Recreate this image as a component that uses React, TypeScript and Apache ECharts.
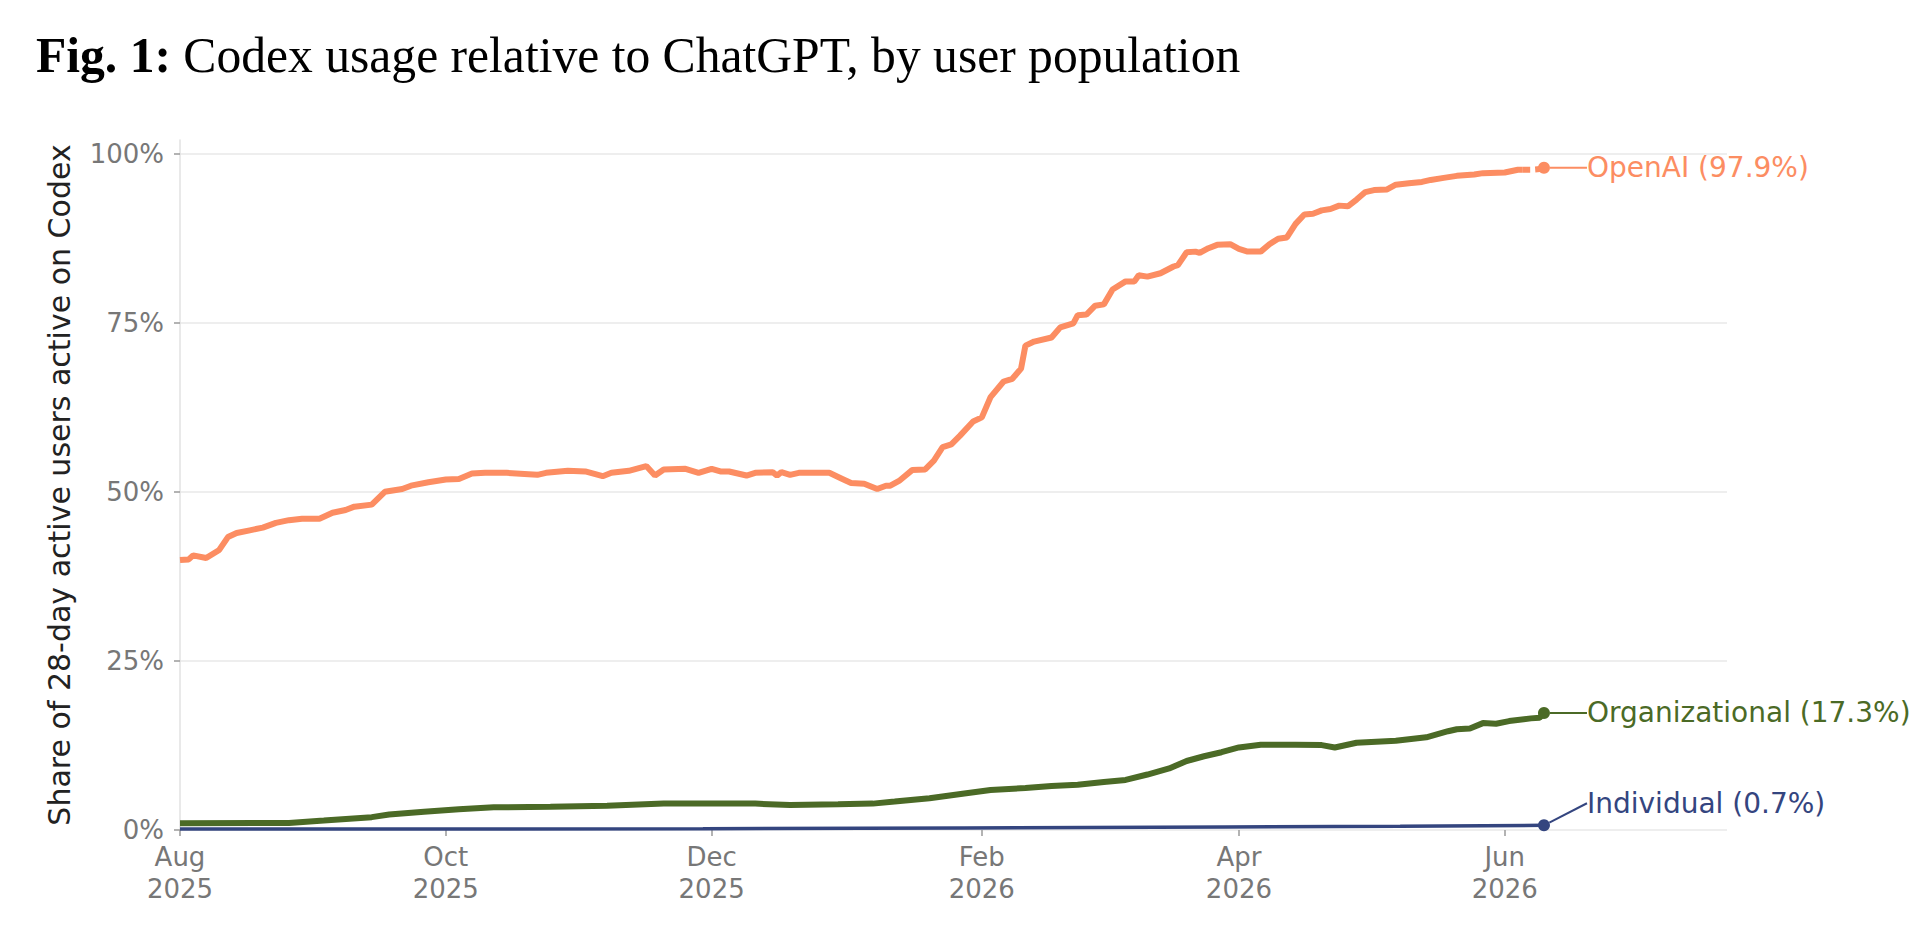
import React, { useEffect, useRef } from "react";
import * as echarts from "echarts";

const SANS = "DejaVu Sans";
const SERIF = "Liberation Serif";

const ORANGE = "#fc8d62";
const GREEN = "#4b6a26";
const NAVY = "#34457f";

// x tick labels
const tickDates = ["2025-08-01", "2025-10-01", "2025-12-01", "2026-02-01", "2026-04-01", "2026-06-01"];
const tickMonths = ["Aug", "Oct", "Dec", "Feb", "Apr", "Jun"];
const tickYears = ["2025", "2025", "2025", "2026", "2026", "2026"];
const yTicks = [0, 25, 50, 75, 100];

// OpenAI (solid part)
const openaiSeries: [string, number][] = [
  ["2025-08-01", 39.9], ["2025-08-03", 40.0], ["2025-08-04", 40.6], ["2025-08-07", 40.2],
  ["2025-08-10", 41.4], ["2025-08-12", 43.3], ["2025-08-14", 43.9], ["2025-08-17", 44.3],
  ["2025-08-20", 44.7], ["2025-08-23", 45.4], ["2025-08-26", 45.8], ["2025-08-29", 46.0],
  ["2025-09-02", 46.0], ["2025-09-05", 46.9], ["2025-09-08", 47.3], ["2025-09-10", 47.8],
  ["2025-09-14", 48.1], ["2025-09-17", 50.0], ["2025-09-21", 50.4], ["2025-09-23", 50.9],
  ["2025-09-27", 51.4], ["2025-10-01", 51.8], ["2025-10-04", 51.9], ["2025-10-07", 52.7],
  ["2025-10-10", 52.8], ["2025-10-15", 52.8], ["2025-10-20", 52.6], ["2025-10-22", 52.5],
  ["2025-10-24", 52.8], ["2025-10-29", 53.1], ["2025-11-02", 53.0], ["2025-11-06", 52.3],
  ["2025-11-08", 52.8], ["2025-11-12", 53.1], ["2025-11-16", 53.8], ["2025-11-18", 52.4],
  ["2025-11-20", 53.3], ["2025-11-25", 53.4], ["2025-11-28", 52.8], ["2025-12-01", 53.4],
  ["2025-12-03", 53.0], ["2025-12-05", 53.0], ["2025-12-09", 52.4], ["2025-12-11", 52.8],
  ["2025-12-15", 52.9], ["2025-12-16", 52.4], ["2025-12-17", 52.9], ["2025-12-19", 52.5],
  ["2025-12-21", 52.8], ["2025-12-25", 52.8], ["2025-12-28", 52.8], ["2025-12-31", 51.9],
  ["2026-01-02", 51.3], ["2026-01-05", 51.2], ["2026-01-08", 50.4], ["2026-01-10", 50.9],
  ["2026-01-11", 50.9], ["2026-01-13", 51.6], ["2026-01-16", 53.2], ["2026-01-19", 53.3],
  ["2026-01-21", 54.6], ["2026-01-23", 56.6], ["2026-01-25", 57.0], ["2026-01-27", 58.3],
  ["2026-01-30", 60.4], ["2026-02-01", 61.0], ["2026-02-03", 64.0], ["2026-02-06", 66.3],
  ["2026-02-08", 66.7], ["2026-02-10", 68.2], ["2026-02-11", 71.6], ["2026-02-13", 72.2],
  ["2026-02-17", 72.8], ["2026-02-19", 74.3], ["2026-02-22", 74.9], ["2026-02-23", 76.1],
  ["2026-02-25", 76.2], ["2026-02-27", 77.5], ["2026-03-01", 77.7], ["2026-03-03", 79.9],
  ["2026-03-06", 81.1], ["2026-03-08", 81.1], ["2026-03-09", 82.0], ["2026-03-11", 81.8],
  ["2026-03-14", 82.3], ["2026-03-17", 83.3], ["2026-03-18", 83.5], ["2026-03-20", 85.4],
  ["2026-03-22", 85.5], ["2026-03-23", 85.3], ["2026-03-25", 86.0], ["2026-03-27", 86.5],
  ["2026-03-30", 86.6], ["2026-04-01", 85.9], ["2026-04-03", 85.5], ["2026-04-06", 85.5],
  ["2026-04-08", 86.6], ["2026-04-10", 87.4], ["2026-04-12", 87.6], ["2026-04-14", 89.6],
  ["2026-04-16", 91.0], ["2026-04-18", 91.1], ["2026-04-20", 91.6], ["2026-04-22", 91.8],
  ["2026-04-24", 92.3], ["2026-04-26", 92.2], ["2026-04-28", 93.2], ["2026-04-30", 94.3],
  ["2026-05-02", 94.6], ["2026-05-05", 94.7], ["2026-05-07", 95.4], ["2026-05-10", 95.6],
  ["2026-05-13", 95.8], ["2026-05-15", 96.1], ["2026-05-18", 96.4], ["2026-05-21", 96.7],
  ["2026-05-25", 96.9], ["2026-05-27", 97.1], ["2026-06-01", 97.2], ["2026-06-04", 97.6],
  ["2026-06-05", 97.6],
];
// OpenAI (dashed tail)
const openaiTail: [string, number][] = [
  ["2026-06-05", 97.6], ["2026-06-07", 97.6], ["2026-06-09", 97.7], ["2026-06-10", 97.9],
];

const orgSeries: [string, number][] = [
  ["2025-08-01", 1.0], ["2025-08-26", 1.05], ["2025-09-03", 1.4], ["2025-09-14", 1.9],
  ["2025-09-18", 2.3], ["2025-09-26", 2.7], ["2025-10-04", 3.05], ["2025-10-12", 3.35],
  ["2025-10-25", 3.45], ["2025-11-07", 3.6], ["2025-11-20", 3.9], ["2025-12-04", 3.9],
  ["2025-12-11", 3.9], ["2025-12-19", 3.7], ["2025-12-30", 3.8], ["2026-01-07", 3.9],
  ["2026-01-12", 4.2], ["2026-01-20", 4.7], ["2026-01-28", 5.4], ["2026-02-03", 5.9],
  ["2026-02-11", 6.2], ["2026-02-17", 6.5], ["2026-02-23", 6.7], ["2026-03-01", 7.1],
  ["2026-03-06", 7.4], ["2026-03-11", 8.2], ["2026-03-16", 9.1], ["2026-03-20", 10.2],
  ["2026-03-24", 10.9], ["2026-03-28", 11.5], ["2026-04-01", 12.2], ["2026-04-06", 12.6],
  ["2026-04-14", 12.6], ["2026-04-20", 12.55], ["2026-04-23", 12.2], ["2026-04-28", 12.9],
  ["2026-05-07", 13.2], ["2026-05-14", 13.7], ["2026-05-19", 14.6], ["2026-05-21", 14.9],
  ["2026-05-24", 15.0], ["2026-05-27", 15.8], ["2026-05-30", 15.7], ["2026-06-02", 16.1],
  ["2026-06-07", 16.5], ["2026-06-09", 16.6], ["2026-06-10", 17.3],
];

const indSeries: [string, number][] = [
  ["2025-08-01", 0.15], ["2025-09-30", 0.15], ["2025-11-29", 0.2], ["2026-01-28", 0.3],
  ["2026-03-29", 0.45], ["2026-05-08", 0.55], ["2026-06-10", 0.7],
];

const endLabels = ["OpenAI (97.9%)", "Organizational (17.3%)", "Individual (0.7%)"];

function parseDay(s: string): number {
  const [y, m, d] = s.split("-").map(Number);
  return Date.UTC(y, m - 1, d);
}

const toXY = (arr: [string, number][]) => arr.map(([d, v]) => [parseDay(d), v]);

export default function App() {
  const ref = useRef<HTMLDivElement>(null);
  useEffect(() => {
    document.body.style.margin = "0";
    if (!ref.current) return;
    const chart = echarts.init(ref.current, undefined, { renderer: "svg" });
    const tickTs = tickDates.map(parseDay);

    const endPoint = (
      pt: [string, number],
      color: string,
      text: string,
      dy: number
    ) => ({
      type: "scatter",
      data: toXY([pt]),
      symbol: "circle",
      symbolSize: 12,
      itemStyle: { color, opacity: 1 },
      z: 6,
      label: {
        show: true,
        position: "right",
        distance: 0,
        formatter: text,
        color,
        fontSize: 28,
        fontFamily: SANS,
      },
      labelLayout: { dx: 37, dy },
      labelLine: { show: true, lineStyle: { color, width: 2, opacity: 1 } },
    });

    const option: any = {
      animation: false,
      title: {
        left: 31,
        top: 25,
        text: "{b|Fig. 1:}{r| Codex usage relative to ChatGPT, by user population}",
        textStyle: {
          rich: {
            b: { fontFamily: SERIF, fontWeight: "bold", fontSize: 49.6, color: "#000" },
            r: { fontFamily: SERIF, fontWeight: "normal", fontSize: 49.6, color: "#000" },
          },
        },
      },
      grid: { left: 180, right: 193, top: 140, bottom: 97 },
      xAxis: {
        type: "value",
        min: parseDay("2025-08-01"),
        max: parseDay("2026-07-22"),
        axisLine: { show: false },
        axisTick: {
          show: true,
          customValues: tickTs,
          length: 6,
          lineStyle: { color: "#9a9a9a", width: 1.5 },
        },
        axisLabel: {
          customValues: tickTs,
          formatter: (v: number) => {
            let best = 0;
            for (let i = 1; i < tickTs.length; i++) {
              if (Math.abs(tickTs[i] - v) < Math.abs(tickTs[best] - v)) best = i;
            }
            return tickMonths[best] + "\n" + tickYears[best];
          },
          fontFamily: SANS,
          fontSize: 26,
          lineHeight: 32,
          color: "#777",
          margin: 11,
          hideOverlap: false,
        },
        splitLine: { show: false },
      },
      yAxis: {
        type: "value",
        min: 0,
        max: 102,
        name: "Share of 28-day active users active on Codex",
        nameLocation: "middle",
        nameRotate: 90,
        nameGap: 106,
        nameTextStyle: { fontFamily: SANS, fontSize: 30, color: "#222" },
        axisLine: { show: true, lineStyle: { color: "#e2e2e2", width: 1.5 } },
        axisTick: {
          show: true,
          customValues: yTicks,
          length: 6,
          lineStyle: { color: "#9a9a9a", width: 1.5 },
        },
        axisLabel: {
          customValues: yTicks,
          formatter: "{value}%",
          fontFamily: SANS,
          fontSize: 26,
          color: "#777",
          margin: 16,
        },
        splitLine: {
          show: true,
          customValues: yTicks,
          lineStyle: { color: "#e8e8e8", width: 1.5 },
        },
      },
      series: [
        {
          type: "line",
          data: toXY(indSeries),
          showSymbol: false,
          lineStyle: { color: NAVY, width: 3.5 },
          z: 3,
        },
        {
          type: "line",
          data: toXY(orgSeries),
          showSymbol: false,
          lineStyle: { color: GREEN, width: 6 },
          z: 3,
        },
        {
          type: "line",
          data: toXY(openaiSeries),
          showSymbol: false,
          lineStyle: { color: ORANGE, width: 6 },
          z: 3,
        },
        {
          type: "line",
          data: toXY(openaiTail),
          showSymbol: false,
          lineStyle: { color: ORANGE, width: 6, type: [8, 5] },
          z: 3,
        },
        endPoint(openaiTail[openaiTail.length - 1], ORANGE, endLabels[0], 0),
        endPoint(orgSeries[orgSeries.length - 1], GREEN, endLabels[1], 0),
        endPoint(indSeries[indSeries.length - 1], NAVY, endLabels[2], -22),
      ],
    };
    chart.setOption(option);
    return () => chart.dispose();
  }, []);
  return <div ref={ref} style={{ width: 1920, height: 927 }} />;
}
